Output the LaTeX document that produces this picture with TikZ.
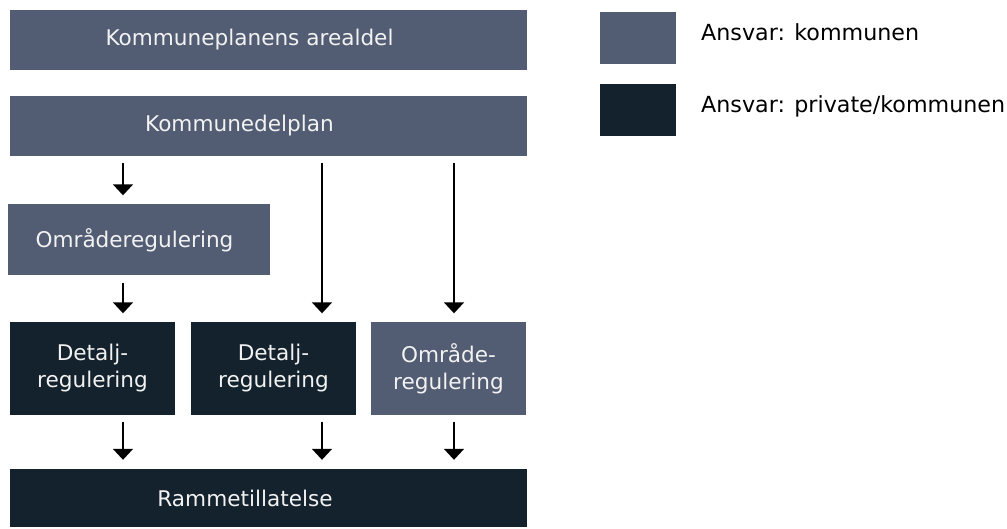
\documentclass[tikz,border=0pt]{standalone}
\usepackage{fontspec}
\setmainfont{DejaVu Sans}
\usetikzlibrary{arrows.meta}
\definecolor{lightbox}{HTML}{525C73}
\definecolor{darkbox}{HTML}{13222C}
\definecolor{boxtext}{HTML}{F2F2F2}
\tikzset{
  box/.style={rectangle, inner sep=0pt, text=boxtext, align=center,
    font=\fontsize{21.6}{27}\selectfont},
  kbox/.style={box, fill=lightbox},
  pbox/.style={box, fill=darkbox},
  legbox/.style={rectangle, inner sep=0pt, minimum width=76pt, minimum height=52pt},
  legtext/.style={anchor=west, inner sep=0pt, text=black, font=\fontsize{22.2}{27}\selectfont},
  arr/.style={line width=1.7pt, -{Triangle[width=20pt,length=11pt]}, shorten <=7pt, shorten >=9pt},
}
\begin{document}
\begin{tikzpicture}[x=1pt,y=-1pt]
\useasboundingbox (0,0) rectangle (1007,529);
% main boxes
\node[kbox, minimum width=517pt, minimum height=60pt] (kpa) at (268.5,40) {\hspace*{-38pt}Kommuneplanens arealdel};
\node[kbox, minimum width=517pt, minimum height=60pt] (kdp) at (268.5,126) {\hspace*{-58pt}Kommunedelplan};
\node[kbox, minimum width=262pt, minimum height=71pt] (omr) at (139,240) {\hspace*{-9pt}Områderegulering};
\node[pbox, minimum width=165pt, minimum height=92pt] (da) at (92.5,368.5) {Detalj-\\regulering};
\node[pbox, minimum width=165pt, minimum height=92pt] (db) at (273.5,368.5) {Detalj-\\regulering};
\node[kbox, minimum width=155pt, minimum height=92pt] (oc) at (448.5,368.5) {Område-\\regulering};
\node[pbox, minimum width=517pt, minimum height=58pt] (ram) at (268.5,498) {\hspace*{-47pt}Rammetillatelse};
% columns for arrows
\coordinate (c1) at (123,0);
\coordinate (c2) at (322,0);
\coordinate (c3) at (454,0);
% arrows
\draw[arr] (kdp.south -| c1) -- (omr.north -| c1);
\draw[arr] (omr.south -| c1) -- (da.north -| c1);
\draw[arr] (kdp.south -| c2) -- (db.north -| c2);
\draw[arr] (kdp.south -| c3) -- (oc.north -| c3);
\draw[arr] (da.south -| c1) -- (ram.north -| c1);
\draw[arr] (db.south -| c2) -- (ram.north -| c2);
\draw[arr] (oc.south -| c3) -- (ram.north -| c3);
% legend
\node[legbox, fill=lightbox] (l1) at (637.5,38) {};
\node[legbox, fill=darkbox] (l2) at (637.5,110.5) {};
\node[legtext] (t1) at (701,32) {Ansvar: kommunen};
\node[legtext] (t2) at (701,106) {Ansvar: private/kommunen};
\end{tikzpicture}
\end{document}
